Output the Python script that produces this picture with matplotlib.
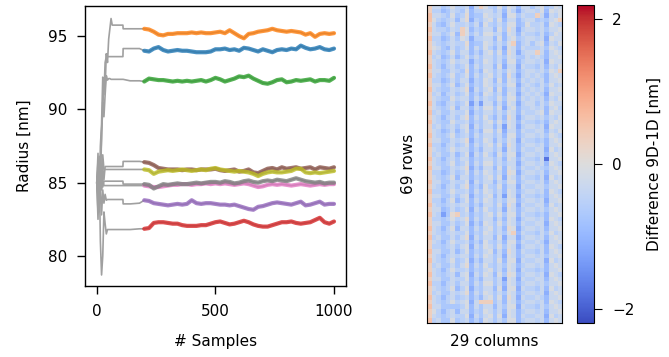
import numpy as np
import matplotlib
matplotlib.use("Agg")
import matplotlib.pyplot as plt

# --- chain traces (radius in nm) ---
chain_colors = ["tab:blue", "tab:orange", "tab:green", "tab:red", "tab:purple",
                "tab:brown", "tab:pink", "tab:gray", "tab:olive"]

# burn-in samples (drawn in grey)
burn_x = [0, 5, 10, 15, 20, 25, 30, 35, 40, 45, 50, 55, 60, 65, 110, 111, 140, 141, 180]
burn_blue = [85, 86, 84, 87.5, 89, 92.2, 91, 93.2, 93.6, 93.6, 93.6, 93.6, 93.6, 93.6, 93.6, 94.15, 94.15, 94.15, 94.15]
burn_orange = [85, 83, 86.5, 84, 88.5, 90, 92, 91.5, 93.8, 93.2, 94.8, 95.5, 96.2, 95.75, 95.75, 95.5, 95.5, 95.5, 95.5]
burn_green = [85, 87, 83, 86, 88, 90.5, 89.5, 91, 92.3, 92.0, 92.1, 92.1, 92.05, 92.05, 92.05, 92.05, 91.95, 91.95, 91.95]
burn_red = [85, 82.5, 86, 81, 78.7, 80, 83, 82.2, 81.5, 81.8, 81.8, 81.8, 81.8, 81.8, 81.8, 81.8, 81.8, 81.8, 81.85]
burn_purple = [85, 86.5, 83.5, 84.5, 82.8, 84.5, 83.6, 84.2, 83.8, 83.85, 83.85, 83.85, 83.85, 83.85, 83.85, 83.55, 83.55, 83.55, 83.6]
burn_brown = [85, 84, 86.8, 85.5, 84.5, 86, 85.2, 86.1, 86.1, 86.1, 86.1, 86.1, 86.1, 86.1, 86.1, 86.45, 86.45, 86.45, 86.45]
burn_pink = [85, 85.8, 84.2, 85.5, 84.6, 85.2, 84.8, 84.8, 84.8, 84.8, 84.8, 84.8, 84.8, 84.8, 84.8, 84.8, 84.8, 84.8, 84.8]
burn_gray = [85, 84.3, 85.9, 84.8, 85.5, 84.7, 85.1, 85.1, 85.1, 85.1, 85.1, 85.1, 85.1, 85.1, 85.1, 84.9, 84.9, 84.9, 84.9]
burn_olive = [85, 85.5, 84.5, 86.5, 85, 86.9, 85.9, 85.9, 85.9, 85.9, 85.9, 85.9, 85.9, 85.9, 85.9, 85.9, 85.9, 85.9, 85.9]

# retained samples, every 20th from 200 to 1000
post_x = list(range(200, 1001, 20))
post_blue = [94.0, 93.95, 94.15, 94.25, 94.05, 93.95, 94.0, 94.05, 94.0, 94.0,
             93.95, 93.9, 93.9, 93.9, 93.95, 94.1, 94.1, 94.15, 94.05, 94.1,
             94.0, 94.2, 94.15, 94.05, 93.95, 94.1, 94.0, 93.9, 94.05, 94.1,
             94.05, 94.15, 94.1, 94.35, 94.2, 94.1, 94.15, 94.25, 94.1, 94.05, 94.15]
post_orange = [95.5, 95.45, 95.3, 95.1, 95.05, 95.15, 95.15, 95.2, 95.2, 95.2,
               95.25, 95.2, 95.25, 95.2, 95.2, 95.25, 95.3, 95.2, 95.4, 95.2,
               95.0, 94.85, 95.15, 95.2, 95.3, 95.35, 95.4, 95.5, 95.4, 95.35,
               95.3, 95.35, 95.3, 95.25, 95.1, 95.2, 94.95, 95.15, 95.2, 95.15, 95.2]
post_green = [91.9, 92.1, 92.05, 92.0, 92.0, 91.95, 91.9, 91.95, 91.9, 91.95,
              91.9, 91.95, 92.0, 91.9, 92.0, 92.15, 92.05, 91.9, 92.0, 92.1,
              92.25, 92.2, 92.3, 92.1, 91.95, 91.8, 91.75, 91.85, 92.0, 92.05,
              91.85, 91.9, 92.0, 91.95, 92.0, 92.05, 91.9, 92.0, 92.0, 91.95, 92.15]
post_red = [81.85, 81.9, 82.25, 82.3, 82.3, 82.25, 82.2, 82.2, 82.1, 82.05,
            82.05, 82.05, 82.1, 82.1, 82.2, 82.3, 82.35, 82.25, 82.15, 82.2,
            82.3, 82.4, 82.3, 82.15, 82.05, 82.0, 82.0, 82.1, 82.2, 82.3,
            82.3, 82.35, 82.25, 82.2, 82.25, 82.3, 82.45, 82.6, 82.3, 82.2, 82.35]
post_purple = [83.8, 83.75, 83.6, 83.55, 83.5, 83.45, 83.5, 83.55, 83.5, 83.55,
               83.8, 83.6, 83.55, 83.6, 83.6, 83.55, 83.5, 83.5, 83.45, 83.5,
               83.4, 83.3, 83.2, 83.15, 83.35, 83.4, 83.5, 83.6, 83.65, 83.6,
               83.55, 83.5, 83.6, 83.7, 83.45, 83.5, 83.6, 83.7, 83.5, 83.55, 83.55]
post_brown = [86.4, 86.35, 86.2, 86.0, 85.95, 85.9, 85.9, 85.9, 85.85, 85.9,
              85.9, 85.85, 85.9, 85.9, 85.9, 85.95, 85.85, 85.8, 85.85, 85.9,
              85.75, 85.8, 85.9, 85.7, 85.65, 85.8, 85.95, 86.0, 85.9, 86.05,
              85.95, 86.0, 86.05, 85.95, 86.0, 86.05, 85.9, 86.05, 86.0, 85.95, 86.05]
post_pink = [84.8, 84.75, 84.7, 84.7, 84.75, 84.8, 84.85, 84.85, 84.9, 84.9,
             84.85, 84.9, 84.9, 84.95, 84.9, 84.95, 84.9, 84.95, 84.9, 84.85,
             84.9, 84.95, 84.9, 84.8, 84.7, 84.75, 84.85, 84.9, 84.85, 84.9,
             84.85, 84.8, 84.85, 84.9, 84.85, 84.8, 84.85, 84.9, 84.85, 84.9, 84.9]
post_gray = [84.9, 84.85, 84.6, 84.75, 84.9, 84.85, 84.9, 84.95, 84.9, 84.9,
             84.95, 85.0, 84.95, 85.0, 85.05, 85.05, 85.0, 85.1, 85.05, 84.95,
             85.0, 85.1, 85.15, 85.05, 85.0, 85.1, 85.15, 85.1, 85.2, 85.15,
             85.1, 85.2, 85.3, 85.2, 85.1, 85.05, 85.0, 85.05, 84.95, 85.0, 85.0]
post_olive = [85.9, 85.85, 85.6, 85.75, 85.8, 85.85, 85.8, 85.85, 85.9, 85.85,
              85.8, 85.85, 85.9, 85.85, 85.95, 86.0, 85.9, 85.85, 85.8, 85.75,
              85.8, 85.75, 85.7, 85.6, 85.45, 85.6, 85.7, 85.75, 85.7, 85.7,
              85.75, 85.8, 85.95, 85.95, 85.7, 85.65, 85.7, 85.65, 85.7, 85.75, 85.8]

burns = [burn_blue, burn_orange, burn_green, burn_red, burn_purple,
         burn_brown, burn_pink, burn_gray, burn_olive]
posts = [post_blue, post_orange, post_green, post_red, post_purple,
         post_brown, post_pink, post_gray, post_olive]

# --- difference map, 69 rows x 29 columns, one character per cell ---
level_values = {"0": 0.6, "1": 0.35, "2": 0.1, "3": -0.1, "4": -0.3, "5": -0.5,
                "6": -0.7, "7": -0.9, "8": -1.1, "9": -1.3, "X": -1.8}
diff_rows = [
    "14465 35548 41356 36347 44643 6534",
    "15576 45637 55446 47358 54453 7343",
    "04456 36527 66345 48336 45514 8453",
    "03565 47428 56436 37447 54465 6431",
    "14675 35546 47356 46337 63554 7345",
    "04556 45137 56447 36248 54454 6443",
    "14465 37136 46335 47347 45564 7534",
    "05576 46348 55447 37436 54454 8344",
    "14565 45527 66346 46317 54643 7453",
    "13467 46537 46357 48347 45554 6345",
    "04565 36447 57436 37248 54414 7434",
    "15476 47536 46446 46346 64545 7443",
    "14565 35448 56346 47337 54454 8344",
    "04575 46537 46447 38448 45564 7453",
    "14466 45627 57346 46347 54454 6341",
    "04565 36537 46436 47258 54545 7434",
    "15576 46448 56347 37347 45454 7443",
    "14465 37537 56346 46338 54564 6354",
    "04566 45428 46437 37447 45454 7443",
    "15475 46537 57346 47348 54545 8344",
    "14566 35447 46456 36337 45454 7453",
    "04675 46539 59447 47348 54464 6344",
    "14565 37447 46336 38437 55454 7435",
    "05466 45538 56446 46347 45543 7344",
    "14575 46427 46357 47248 54454 6453",
    "04566 35547 56436 36347 45565 7434",
    "15465 46438 46447 49348 54454 8344",
    "14576 47537 57336 38447 45544 7453",
    "04565 36547 46446 47337 54454 6345",
    "14466 45428 56347 46348 45565 7434",
    "05575 46537 46436 37247 54454 7443",
    "14565 35447 57446 48347 45544 8354",
    "15466 47538 46357 36338 54454 7434",
    "04575 46447 56446 47347 45564 X443",
    "14565 36537 46336 46448 54454 7345",
    "04466 45428 57447 37347 45545 6434",
    "15576 46537 46346 47238 54454 7443",
    "14565 37447 56436 38347 45564 8354",
    "04466 45538 46447 46337 54454 7434",
    "14575 46427 57356 37448 45544 6443",
    "05565 35547 46346 47347 54454 7345",
    "14466 46438 56437 49348 45565 7434",
    "15575 37537 46346 46337 54454 8443",
    "04565 45447 57446 37248 45544 7354",
    "14476 46538 46356 48347 54454 6434",
    "04596 21547 56436 36337 45565 7443",
    "15565 35427 46447 47348 54454 7345",
    "14466 46538 57346 36347 45544 8434",
    "04575 37447 46436 47238 54454 7443",
    "14565 45537 56346 46317 45564 6354",
    "05466 46428 46447 38448 54454 7434",
    "14575 35547 57356 47337 45545 8443",
    "15565 46438 46346 36348 54454 7345",
    "04466 47537 56437 47247 45564 7434",
    "14575 45447 46346 48347 54454 6443",
    "04565 36538 57446 37338 45544 8354",
    "15466 46427 46356 46347 54454 7434",
    "14575 35547 56436 47348 45565 7443",
    "04565 47438 46347 36237 54454 8345",
    "14466 45537 57446 49348 45544 7434",
    "05575 46447 46336 47347 54454 6443",
    "14565 37538 56447 38338 45564 7354",
    "15466 45427 46346 46347 54454 8434",
    "04575 46547 57436 37248 45545 7443",
    "14565 35438 41116 47347 54454 7345",
    "04466 66537 46447 46338 45564 6434",
    "13575 47447 56346 47347 54454 7443",
    "14565 45538 46436 38347 45544 8354",
    "05466 36547 57346 46337 54454 7434",
]
diff = np.array([[level_values[c] for c in row.replace(" ", "")] for row in diff_rows])

fig = plt.figure(figsize=(6.69, 3.57), dpi=100)

# left: traces
ax = fig.add_axes([0.127, 0.199, 0.390, 0.784])
for by, py in zip(burns, posts):
    ax.plot(burn_x + post_x, by + py, color="#a0a0a0", lw=1.2)
for col, py in zip(chain_colors, posts):
    ax.plot(post_x, py, color=col, lw=3, alpha=0.8, solid_capstyle="round")
ax.set_xlim(-50, 1050)
ax.set_ylim(77.95, 97.05)
ax.set_yticks([80, 85, 90, 95])
ax.set_xticks([0, 500, 1000])
ax.set_xlabel("# Samples", fontsize=11, labelpad=11)
ax.set_ylabel("Radius [nm]", fontsize=11, labelpad=11)
ax.tick_params(labelsize=11, length=6, width=1, pad=7)
for s in ax.spines.values():
    s.set_linewidth(1)

# right: difference map
hax = fig.add_axes([0.638, 0.095, 0.202, 0.891])
im = hax.imshow(diff, cmap="coolwarm", vmin=-2.2, vmax=2.2, aspect="auto",
                interpolation="nearest")
hax.set_xticks([])
hax.set_yticks([])
hax.set_xlabel("29 columns", fontsize=11, labelpad=8)
hax.set_ylabel("69 rows", fontsize=11, labelpad=8)

cax = fig.add_axes([0.8625, 0.095, 0.0254, 0.891])
cb = fig.colorbar(im, cax=cax, ticks=[-2, 0, 2])
cb.ax.tick_params(labelsize=11, length=6, pad=7)
cb.set_label("Difference 9D-1D [nm]", fontsize=11, labelpad=9)

fig.savefig("out.png", dpi=100)
